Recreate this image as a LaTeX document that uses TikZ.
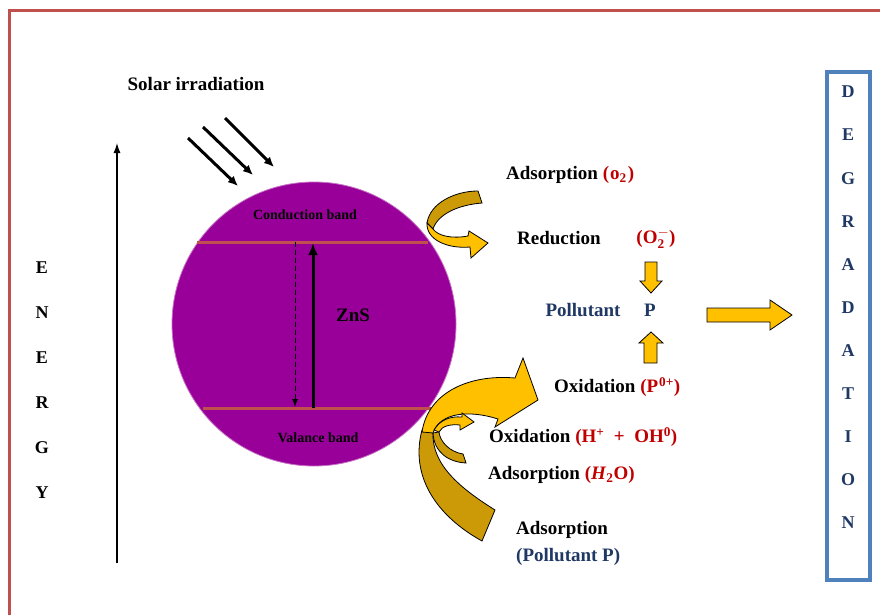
\documentclass[tikz,border=0pt]{standalone}
\usepackage{fontspec}
\setmainfont{Liberation Serif}
\usetikzlibrary{arrows.meta}
\definecolor{framered}{HTML}{C0504D}
\definecolor{znsfill}{HTML}{990099}
\definecolor{bandline}{HTML}{C0504D}
\definecolor{gold}{HTML}{FFC000}
\definecolor{dkgold}{HTML}{CC9A06}
\definecolor{redtxt}{HTML}{C00000}
\definecolor{navy}{HTML}{1F3864}
\definecolor{boxblue}{HTML}{4F81BD}
\begin{document}
\begin{tikzpicture}[x=1pt,y=-1pt,
  lbl/.style={font=\fontsize{19}{21}\selectfont\bfseries, inner sep=0pt},
  smalllbl/.style={font=\fontsize{14}{16}\selectfont\bfseries, inner sep=0pt},
  letter/.style={font=\fontsize{18}{20}\selectfont\bfseries, inner sep=0pt},
  blockarrow/.style={fill=gold, draw=black, line width=0.8pt},
  backarrow/.style={fill=dkgold, draw=black, line width=0.8pt},
  sunray/.style={line width=3pt, -{Latex[length=10pt,width=9pt]}},
]
\useasboundingbox (0,0) rectangle (880,615);

% frame
\draw[framered, line width=3pt] (9,625) -- (9,10.5) -- (890,10.5);

% ZnS particle
\fill[znsfill, draw=znsfill!55!white, line width=0.8pt] (314,324) circle [radius=142pt];
\draw[bandline, line width=3pt] (197,242) -- (428,242);
\draw[bandline, line width=3pt] (203,408) -- (432,408);
\node[smalllbl] (cb) at (305,215) {Conduction band};
\node[smalllbl] (vb) at (318,438) {Valance band};
\node[lbl] (zns) at (353,315) {ZnS};
\coordinate (dtop) at (295,242);
\coordinate (dbot) at (295,407);
\coordinate (utop) at (313,243);
\coordinate (ubot) at (313,408);
\draw[line width=1pt, dash pattern=on 5pt off 3pt, -{Latex[length=8pt,width=6pt]}] (dtop) -- (dbot);
\draw[line width=3pt, -{Latex[length=12pt,width=10pt]}] (ubot) -- (utop);

% solar irradiation
\node[lbl] (solar) at (196,84) {Solar irradiation};
\coordinate (s1a) at (188,138); \coordinate (s1b) at (238,186);
\coordinate (s2a) at (203,127); \coordinate (s2b) at (253,175);
\coordinate (s3a) at (225,118); \coordinate (s3b) at (274,167);
\draw[sunray] (s1a) -- (s1b);
\draw[sunray] (s2a) -- (s2b);
\draw[sunray] (s3a) -- (s3b);

% energy axis
\coordinate (ebot) at (117,563);
\coordinate (etop) at (117,143);
\draw[line width=1.3pt, -{Latex[length=10pt,width=7pt]}] (ebot) -- (etop);
\foreach \ch [count=\i] in {E,N,E,R,G,Y}
  \node[letter] (en\i) at (42,{268+45*(\i-1)}) {\ch};

% top curved arrow (adsorption O2 / reduction)
\filldraw[backarrow] (478,191) .. controls (455,191) and (430,203) .. (427,223)
  -- (433,229) .. controls (438,214) and (458,205) .. (482,203) -- cycle;
\filldraw[blockarrow] (427,223) .. controls (426,240) and (448,249) .. (470,247)
  -- (471,258) -- (488,243) -- (469,231) -- (468,236)
  .. controls (452,239) and (438,236) .. (433,229) -- cycle;

% big bottom curved arrow
\filldraw[backarrow] (422,430) .. controls (410,475) and (435,515) .. (482,541)
  -- (495,510) .. controls (460,488) and (432,465) .. (433,433) -- cycle;
\filldraw[blockarrow] (422,432) .. controls (428,392) and (470,374) .. (515,378)
  -- (523,358) -- (538,400) -- (495,427) -- (498,419)
  .. controls (470,410) and (440,412) .. (433,433) -- cycle;

% medium curved arrow
\filldraw[backarrow] (433,433) .. controls (434,452) and (448,462) .. (466,463)
  -- (463,454) .. controls (450,452) and (440,442) .. (439,432) -- cycle;
\filldraw[blockarrow] (434,430) .. controls (440,420) and (450,416) .. (462,417)
  -- (462,413) -- (474,422) -- (460,430) -- (460,425)
  .. controls (450,424) and (442,426) .. (439,432) -- cycle;

% block arrows
\filldraw[blockarrow] (645,262) -- (657,262) -- (657,281) -- (662,281) -- (651,293)
  -- (640,281) -- (645,281) -- cycle;
\filldraw[blockarrow] (644,363) -- (657,363) -- (657,343) -- (663,343) -- (651,332)
  -- (639,343) -- (644,343) -- cycle;
\filldraw[blockarrow] (707,308) -- (770,308) -- (770,300) -- (792,315) -- (770,330)
  -- (770,322) -- (707,322) -- cycle;

% labels
\node[lbl, anchor=west] (ads1) at (506,175) {Adsorption \textcolor{redtxt}{(\kern1pt o\textsubscript{2}\kern1pt)}};
\node[lbl, anchor=west] (red1) at (517,238) {Reduction};
\node[lbl, text=redtxt] (o2m) at (656,238) {(O$_{\mathbf{2}}^{-}$)};
\node[lbl, text=navy] (poll) at (583,310) {Pollutant};
\node[lbl, text=navy] (pp) at (650,310) {P};
\node[lbl, anchor=west] (ox1) at (554,387) {Oxidation \textcolor{redtxt}{(P\kern1pt\textsuperscript{0+})}};
\node[lbl, anchor=west] (ox2) at (489,437) {Oxidation \textcolor{redtxt}{(H\textsuperscript{+}\enspace+\enspace OH\textsuperscript{0})}};
\node[lbl, anchor=west] (ads2) at (488,475) {Adsorption \textcolor{redtxt}{(\textit{H}\textsubscript{2}O)}};
\node[lbl, anchor=west] (ads3) at (516,530) {Adsorption};
\node[lbl, anchor=west, text=navy] (ads3b) at (516,557) {(Pollutant P)};

% degradation box
\node[draw=boxblue, line width=3.5pt, minimum width=43pt, minimum height=508pt, inner sep=0pt] (degbox) at (848.5,326) {};
\foreach \ch [count=\i] in {D,E,G,R,A,D,A,T,I,O,N}
  \node[letter, text=navy] (dg\i) at (848,{92+43.1*(\i-1)}) {\ch};
\end{tikzpicture}
\end{document}
